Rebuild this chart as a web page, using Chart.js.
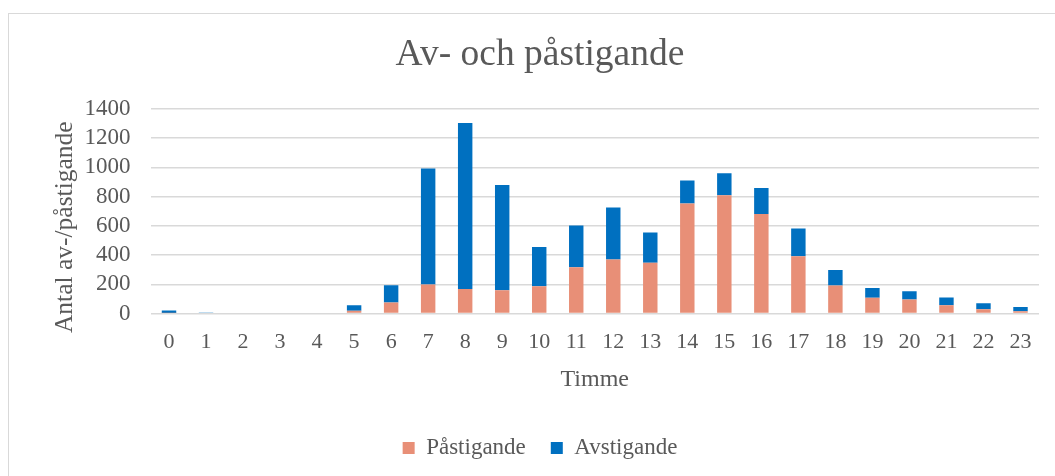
<!DOCTYPE html>
<html>
<head>
<meta charset="utf-8">
<script src="https://cdn.jsdelivr.net/npm/chart.js@4"></script>
<style>
  html, body { margin: 0; padding: 0; background: #fff; overflow: hidden; }
  #frame { position: absolute; left: 8px; top: 13px; width: 1100px; height: 500px; border: 1px solid #d9d9d9; }
  #chart { position: absolute; left: 0; top: 0; }
</style>
</head>
<body>
<div id="frame"></div>
<canvas id="chart" width="1055" height="476"></canvas>
<script>
const timmar = ['0','1','2','3','4','5','6','7','8','9','10','11','12','13','14','15','16','17','18','19','20','21','22','23'];
const pastigande = [3,0,0,0,0,18,75,198,168,160,187,317,370,347,753,810,682,392,192,107,96,57,29,16];
const avstigande = [18,6,0,0,0,39,119,795,1137,719,269,286,356,208,158,151,178,190,105,68,57,52,41,29];
const yTicks = [0,200,400,600,800,1000,1200,1400];

const textColor = '#595959';
const serif = '"Liberation Serif", "Times New Roman", serif';

const config = {
    type: 'bar',
    data: {
        labels: timmar,
        datasets: [
            { label: 'Påstigande', data: pastigande, backgroundColor: '#e88f77', yAxisID: 'y',
              barPercentage: 0.39, categoryPercentage: 1 },
            { label: 'Avstigande', data: avstigande, backgroundColor: '#0070c0', yAxisID: 'y',
              barPercentage: 0.39, categoryPercentage: 1 }
        ]
    },
    options: {
        responsive: false,
        animation: false,
        layout: { padding: { left: 41, right: 16, top: 0, bottom: 6.5 } },
        plugins: {
            title: {
                display: true,
                text: 'Av- och påstigande',
                color: textColor,
                font: { family: serif, size: 37.5, weight: 'normal' },
                padding: { top: 32.5, bottom: 31.5 }
            },
            legend: {
                position: 'bottom',
                labels: {
                    color: textColor,
                    font: { family: serif, size: 23 },
                    boxWidth: 12,
                    boxHeight: 12,
                    padding: 25
                }
            },
            tooltip: { enabled: false }
        },
        scales: {
            x: {
                stacked: true,
                grid: { display: false, drawTicks: false },
                border: { display: false },
                ticks: { color: textColor, font: { family: serif, size: 22 }, padding: 16, maxRotation: 0, autoSkip: false },
                title: { display: true, text: 'Timme', color: textColor,
                         font: { family: serif, size: 24 }, padding: { top: 0, bottom: 17 } },
                afterFit(scale) { scale.height = 98; }
            },
            y: {
                stacked: true,
                min: 0,
                max: 1400,
                afterBuildTicks(scale) { scale.ticks = yTicks.map(v => ({ value: v })); },
                grid: { color: '#d9d9d9', lineWidth: 1.5, drawTicks: false },
                border: { display: false },
                ticks: { color: textColor, font: { family: serif, size: 23 }, padding: 20, autoSkip: false,
                         callback: v => String(v) },
                title: { display: true, text: 'Antal av-/påstigande     ', color: textColor,
                         font: { family: serif, size: 25.5 }, padding: { top: 8.5, bottom: 0 } },
                afterFit(scale) { scale.width = 109.5; }
            }
        }
    }
};

const canvas = document.getElementById('chart');
const chart = new Chart(canvas, config);
</script>
</body>
</html>
